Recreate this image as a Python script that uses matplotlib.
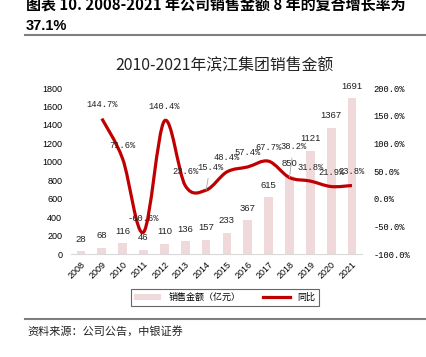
import matplotlib.pyplot as plt
import numpy as np
from matplotlib.path import Path
from matplotlib.patches import PathPatch, Patch
from matplotlib.lines import Line2D

years = ["2008", "2009", "2010", "2011", "2012", "2013", "2014",
         "2015", "2016", "2017", "2018", "2019", "2020", "2021"]
sales = [28, 68, 116, 46, 110, 136, 157, 233, 367, 615, 850, 1121, 1367, 1691]
yoy_years = years[1:]
yoy = [144.7, 71.6, -60.6, 140.4, 23.6, 15.4, 48.4, 57.4, 67.7, 38.2, 31.8, 21.9, 23.8]

CJK = ['Noto Sans CJK SC', 'DejaVu Sans']
plt.rcParams['font.family'] = CJK

bar_color = '#f0d9da'
line_color = '#c00000'

W, H = 426, 357
fig = plt.figure(figsize=(W / 100, H / 100), dpi=100)

def fx(px):
    return px / W

def fy(py):
    return 1 - py / H

# header
fig.text(fx(26), fy(5), "图表 10. 2008-2021 年公司销售金额 8 年的复合增长率为",
         fontsize=10.8, fontweight='bold', va='center', ha='left')
fig.text(fx(26), fy(26), "37.1%", fontsize=10.5, fontweight='bold',
         va='center', ha='left', family=['Liberation Sans'])
fig.add_artist(Line2D([fx(25), 1], [fy(35), fy(35)], color='#7f7f7f', lw=1.5))
fig.add_artist(Line2D([fx(25), 1], [fy(319), fy(319)], color='#7f7f7f', lw=1.5))
fig.text(fx(27), fy(331), "资料来源：公司公告，中银证券", fontsize=8,
         va='center', ha='left', color='#222222')

fig.text(fx(224), fy(66), "2010-2021年滨江集团销售金额", fontsize=11.4,
         ha='center', va='center', color='#222222')

ax = fig.add_axes([fx(70.6), fy(254), fx(291.8), 166 / H])
x = np.arange(len(years))
ax.bar(x, sales, width=0.42, color=bar_color, zorder=1)
ax.set_xlim(-0.5, len(years) - 0.5)
ax.set_ylim(0, 1800)
ax.set_yticks(np.arange(0, 1801, 200))
ax.set_xticks(x)
ax.set_xticklabels(years, rotation=45, ha='right', rotation_mode='anchor',
                   family=['Liberation Sans'], fontsize=6.5)
for lab in ax.get_yticklabels():
    lab.set_family(['Liberation Sans'])
    lab.set_fontsize(6.5)
ax.tick_params(length=0, pad=6)
ax.tick_params(axis='x', pad=4)
for s in ['top', 'right', 'left']:
    ax.spines[s].set_visible(False)
ax.spines['bottom'].set_color('#d9d9d9')

for xi, v in zip(x, sales):
    ax.annotate(str(v), (xi, v), xytext=(0, 12), textcoords='offset pixels',
                ha='center', va='center', fontsize=6.8, family=['Liberation Sans'],
                color='#222222')

ax2 = ax.twinx()
ax2.set_ylim(-100, 200)
ax2.set_yticks(np.arange(-100, 201, 50))
ax2.set_yticklabels([f"{t:.1f}%" for t in np.arange(-100, 201, 50)],
                    family=['Liberation Mono'], fontsize=6.3)
ax2.tick_params(length=0, pad=8)
for s in ['top', 'right', 'left', 'bottom']:
    ax2.spines[s].set_visible(False)

# smoothed line (Catmull-Rom bezier through the data points)
px = np.array([years.index(y) for y in yoy_years], dtype=float)
py = np.array(yoy, dtype=float)
pts = np.column_stack([px, py])
verts = [pts[0]]
codes = [Path.MOVETO]
n = len(pts)
for i in range(n - 1):
    p0 = pts[max(i - 1, 0)]
    p1 = pts[i]
    p2 = pts[i + 1]
    p3 = pts[min(i + 2, n - 1)]
    c1 = p1 + (p2 - p0) / 6
    c2 = p2 - (p3 - p1) / 6
    verts += [c1, c2, p2]
    codes += [Path.CURVE4] * 3
ax2.add_patch(PathPatch(Path(verts, codes), fill=False, edgecolor=line_color,
                        lw=2.3, zorder=3))

offsets = {"2014": (4, 23), "2018": (4, 31)}
for yr, v in zip(yoy_years, yoy):
    xi = years.index(yr)
    off = offsets.get(yr, (0, 14))
    kw = {}
    if yr in offsets:
        kw['arrowprops'] = dict(arrowstyle='-', color='#a6a6a6', lw=0.6,
                                shrinkA=3, shrinkB=0)
    ax2.annotate(f"{v:.1f}%", (xi, v), xytext=off, textcoords='offset pixels',
                 ha='center', va='center', fontsize=6.3,
                 family=['Liberation Mono'], color='#222222', zorder=4, **kw)

handles = [Patch(facecolor=bar_color, edgecolor='none'),
           Line2D([0], [0], color=line_color, lw=2.3)]
leg = fig.legend(handles, ["销售金额（亿元）", "同比"], ncol=2,
                 loc='center', bbox_to_anchor=(fx(225), fy(297.5)),
                 fontsize=6.5, frameon=True, fancybox=False,
                 edgecolor='#404040', handlelength=3, handleheight=0.6,
                 columnspacing=2.5, borderpad=0.4)
leg.get_frame().set_linewidth(0.8)

fig.savefig("out.png", dpi=100)
